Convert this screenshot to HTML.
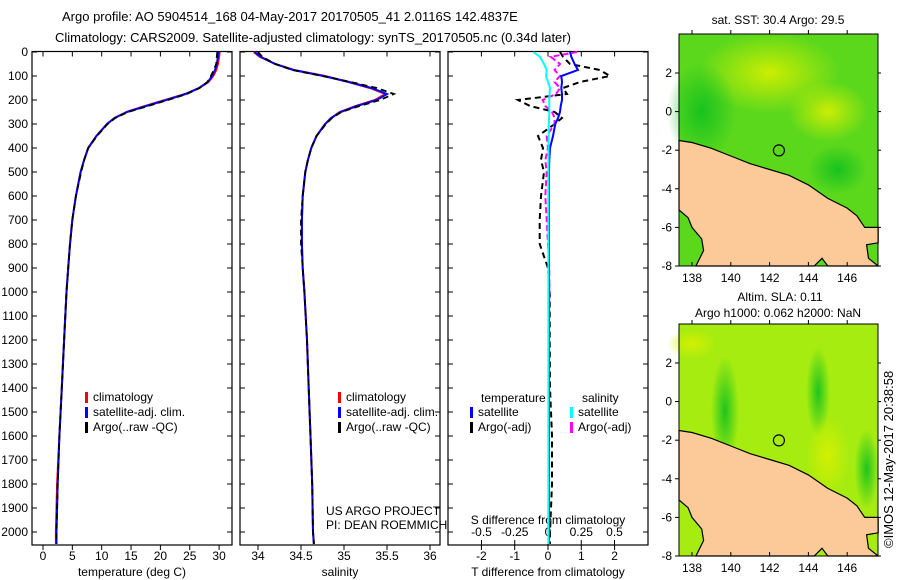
<!DOCTYPE html>
<html><head><meta charset="utf-8"><style>
body{margin:0;background:#fff}
svg{display:block;font-family:"Liberation Sans",sans-serif;}
text{font-size:12px;fill:#000}
</style></head><body>
<svg id="fig" width="900" height="580" viewBox="0 0 900 580">
<defs>
<radialGradient id="yl" cx="50%" cy="50%" r="50%"><stop offset="0" stop-color="#d8f000" stop-opacity="0.9"/><stop offset="1" stop-color="#d8f000" stop-opacity="0"/></radialGradient>
<radialGradient id="dg" cx="50%" cy="50%" r="50%"><stop offset="0" stop-color="#10c020" stop-opacity="0.9"/><stop offset="1" stop-color="#10c020" stop-opacity="0"/></radialGradient>
</defs>
<text x="62" y="21" style="font-size:13px">Argo profile: AO 5904514_168 04-May-2017 20170505_41 2.0116S 142.4837E</text>
<text x="55" y="42" style="font-size:13px">Climatology: CARS2009. Satellite-adjusted climatology: synTS_20170505.nc (0.34d later)</text>
<g id="p1"></g>
<g id="p2"></g>
<g id="p3"></g>
<g id="m1"></g>
<g id="m2"></g>
<text transform="translate(893,548) rotate(-90)" style="font-size:13px">©IMOS 12-May-2017 20:38:58</text>
</svg>
<script>
const depths=[0,20,50,75,100,125,150,175,200,225,250,275,300,350,400,450,500,600,700,800,900,1000,1200,1400,1600,1800,2000,2050];
const tempArgo=[29.7,29.6,29.5,29.1,28.6,28.0,26.7,24.5,21.3,17.9,14.5,12.3,11.0,9.2,7.7,7.0,6.5,5.6,5.0,4.6,4.3,4.0,3.6,3.2,2.8,2.5,2.3,2.3];
const tempClim=[30.1,30.0,29.8,29.5,29.0,28.2,26.6,24.2,20.8,17.4,14.2,12.2,10.9,9.1,7.7,7.0,6.4,5.6,5.0,4.6,4.3,4.0,3.6,3.2,2.8,2.4,2.2,2.2];
const tempSat=[29.9,29.8,29.6,29.3,28.8,28.1,26.6,24.3,21.0,17.6,14.3,12.2,10.9,9.1,7.7,7.0,6.4,5.6,5.0,4.6,4.3,4.0,3.6,3.2,2.8,2.5,2.3,2.3];
const salArgo=[34.0,34.05,34.2,34.4,34.75,35.08,35.38,35.58,35.42,35.18,34.97,34.86,34.79,34.68,34.62,34.58,34.55,34.52,34.5,34.5,34.52,34.54,34.57,34.59,34.61,34.63,34.64,34.65];
const salClim=[33.95,34.02,34.2,34.42,34.78,35.05,35.3,35.48,35.36,35.14,34.95,34.85,34.78,34.68,34.62,34.58,34.55,34.52,34.51,34.51,34.52,34.54,34.57,34.59,34.61,34.63,34.64,34.65];
const salSat=[33.96,34.03,34.2,34.41,34.76,35.06,35.32,35.5,35.38,35.15,34.96,34.85,34.78,34.68,34.62,34.58,34.55,34.52,34.51,34.51,34.52,34.54,34.57,34.59,34.61,34.63,34.64,34.65];
const tDiffSat=[0.66,0.7,0.8,0.9,0.4,0.42,0.4,0.42,0.42,0.38,0.36,0.3,0.22,0.15,0.06,0.04,0.03,0.03,0.03,0.03,0.03,0.03,0.03,0.03,0.03,0.03,0.03,0.03];
const tDiffArgo=[0.36,0.45,0.66,1.56,1.86,0.96,0.45,0.57,-0.9,-0.54,0.2,0.42,0.2,-0.3,-0.15,-0.21,-0.12,-0.21,-0.25,-0.25,0.0,0.05,0.05,0.06,0.12,0.12,0.06,0.06];
const sDiffSat=[-0.11,-0.06,-0.03,-0.01,-0.015,0.0,0.015,0.012,0.01,0.01,0.01,0.008,0.006,0.005,0.004,0.004,0.003,0.003,0.003,0.003,0.003,0.003,0.003,0.003,0.003,0.003,0.003,0.003];
const sDiffArgo=[0.22,0.02,0.09,0.05,0.09,0.05,0.09,0.06,-0.04,-0.02,0.03,0.05,0.05,-0.01,0.0,-0.02,-0.01,-0.02,-0.01,0.0,0.01,0.01,0.005,0.005,0.005,0.005,0.005,0.005];
const depthTicks=[0,100,200,300,400,500,600,700,800,900,1000,1100,1200,1300,1400,1500,1600,1700,1800,1900,2000];
const tempTicks=[0,5,10,15,20,25,30];
const salTicks=[34,34.5,35,35.5,36];
const tdTicks=[-2,-1,0,1,2];
const sdTicks=[-0.5,-0.25,0,0.25,0.5];
const sdTickLabels=["-0.5","-0.25","0","0.25","0.5"];
const lonTicks=[138,140,142,144,146];
const latTicks=[2,0,-2,-4,-6,-8];

const NS="http://www.w3.org/2000/svg";
function mk(parent,tag,attrs,txt){const e=document.createElementNS(NS,tag);for(const k in attrs)e.setAttribute(k,attrs[k]);if(txt!==undefined)e.textContent=txt;parent.appendChild(e);return e;}
const Y0=52,Yk=0.24;
const yD=d=>Y0+d*Yk;
function frame(g,x0,x1){const r=mk(g,'rect',{x:x0,y:51.5,width:x1-x0,height:493.5,fill:'none',stroke:'#000','stroke-width':1.2});}
function line(g,xs,sx,color,dash,w,name){const pts=depths.map((d,i)=>sx(xs[i]).toFixed(1)+','+yD(d).toFixed(1)).join(' ');const p=mk(g,'polyline',{points:pts,fill:'none',stroke:color,'stroke-width':w||2,'stroke-dasharray':dash||'none'});}
function xTicks(g,ticks,labels,sx,yb,ylab,up){ticks.forEach((t,i)=>{const x=sx(t);mk(g,'line',{x1:x,x2:x,y1:yb,y2:yb+(up?-5:5),stroke:'#000'});if(!up)mk(g,'line',{x1:x,x2:x,y1:51.5,y2:56.5,stroke:'#000'});const tx=mk(g,'text',{x:x,y:ylab,'text-anchor':'middle'},labels[i]);});}
function legend(g,x,y,items){items.forEach((it,i)=>{mk(g,'rect',{x:x,y:y+i*15-9,width:3,height:11,fill:it[0]});const t=mk(g,'text',{x:x+8,y:y+i*15},it[1]);});}

// Panel 1
const p1=document.getElementById('p1');
const sT=v=>43+v*5.87;
frame(p1,32,232);
depthTicks.forEach(d=>{const y=yD(d);mk(p1,'line',{x1:32,x2:37,y1:y,y2:y,stroke:'#000'});mk(p1,'line',{x1:227,x2:232,y1:y,y2:y,stroke:'#000'});const t=mk(p1,'text',{x:28,y:y+4,'text-anchor':'end'},String(d));});
xTicks(p1,tempTicks,tempTicks.map(String),sT,545,560);
const xl1=mk(p1,'text',{x:132,y:576,'text-anchor':'middle'},'temperature (deg C)');
line(p1,tempClim,sT,'#f00',null,2,'climatology-line');
line(p1,tempSat,sT,'#00f',null,2,'satellite-line');
line(p1,tempArgo,sT,'#000','6 4',1.8,'argo-line');
legend(p1,85,401,[['#f00','climatology'],['#00f','satellite-adj. clim.'],['#000','Argo(..raw -QC)']]);

// Panel 2
const p2=document.getElementById('p2');
const sS=v=>258+(v-34)*86;
frame(p2,240,440);
depthTicks.forEach(d=>{const y=yD(d);mk(p2,'line',{x1:240,x2:245,y1:y,y2:y,stroke:'#000'});mk(p2,'line',{x1:435,x2:440,y1:y,y2:y,stroke:'#000'});});
xTicks(p2,salTicks,salTicks.map(String),sS,545,560);
const xl2=mk(p2,'text',{x:340,y:576,'text-anchor':'middle'},'salinity');
line(p2,salClim,sS,'#f00',null,2,'climatology-line');
line(p2,salSat,sS,'#00f',null,2,'satellite-line');
line(p2,salArgo,sS,'#000','6 4',1.8,'argo-line');
legend(p2,338,401,[['#f00','climatology'],['#00f','satellite-adj. clim.'],['#000','Argo(..raw -QC)']]);
mk(p2,'text',{x:326,y:515},'US ARGO PROJECT');mk(p2,'text',{x:326,y:529},'PI: DEAN ROEMMICH');

// Panel 3
const p3=document.getElementById('p3');
const sTD=v=>548+v*33.3, sSD=v=>548+v*133;
frame(p3,448,648);
depthTicks.forEach(d=>{const y=yD(d);mk(p3,'line',{x1:448,x2:453,y1:y,y2:y,stroke:'#000'});mk(p3,'line',{x1:643,x2:648,y1:y,y2:y,stroke:'#000'});});
xTicks(p3,tdTicks,tdTicks.map(String),sTD,545,560);
sdTicks.forEach((t,i)=>{const x=sSD(t);mk(p3,'line',{x1:x,x2:x,y1:545,y2:540,stroke:'#000'});mk(p3,'text',{x:x,y:536,'text-anchor':'middle'},sdTickLabels[i]);});
mk(p3,'text',{x:548,y:524,'text-anchor':'middle'},'S difference from climatology');
const xl3=mk(p3,'text',{x:548,y:576,'text-anchor':'middle'},'T difference from climatology');
line(p3,tDiffArgo,sTD,'#000','6 4',2,'t-diff-argo-line');
line(p3,sDiffArgo,sSD,'#f0f','6 3',2,'s-diff-argo-line');
line(p3,tDiffSat,sTD,'#00f',null,2,'t-diff-satellite-line');
line(p3,sDiffSat,sSD,'#0ff',null,2,'s-diff-satellite-line');
mk(p3,'text',{x:481,y:402},'temperature');mk(p3,'text',{x:582,y:402},'salinity');
legend(p3,470,416,[['#00f','satellite'],['#000','Argo(-adj)']]);
legend(p3,570,416,[['#0ff','satellite'],['#f0f','Argo(-adj)']]);

// Maps
function map(id,y0,title1,title2,base,blobs){
 const g=document.getElementById(id);
 const X0=679,X1=878,lonL=137.33,latT=4.02;
 const px=lo=>X0+(lo-lonL)*19.4, py=la=>y0+(latT-la)*19.3;
 const y1=py(-8);
 mk(g,'rect',{x:X0,y:y0,width:X1-X0,height:y1-y0,fill:base});
 blobs.forEach(b=>mk(g,'ellipse',{cx:px(b[0]),cy:py(b[1]),rx:b[2],ry:b[3],fill:b[4]}));
 const land=[[137.33,-1.5],[138,-1.6],[139,-1.9],[140,-2.3],[141,-2.7],[142,-3.0],[143,-3.3],[144,-3.8],[145,-4.5],[146,-5.0],[146.5,-5.4],[146.9,-6.0],[147.6,-6.0],[147.6,-6.8],[147,-6.9],[147.1,-7.6],[147.6,-8],[145,-8],[144.7,-7.6],[144.3,-8],[138.2,-8],[138.6,-7.2],[138.5,-6.6],[138,-6],[137.8,-5.5],[137.33,-5.1]];
 const lp=mk(g,'polygon',{points:land.map(p=>px(p[0]).toFixed(1)+','+py(p[1]).toFixed(1)).join(' '),fill:'#fcc998',stroke:'#000','stroke-width':1.2});
 
 mk(g,'circle',{cx:px(142.48),cy:py(-2.01),r:5.5,fill:'none',stroke:'#000','stroke-width':1.2});
 mk(g,'rect',{x:X0,y:y0,width:X1-X0,height:y1-y0,fill:'none',stroke:'#000'});
 lonTicks.forEach(l=>{const x=px(l);mk(g,'line',{x1:x,x2:x,y1:y1,y2:y1-4,stroke:'#000'});mk(g,'line',{x1:x,x2:x,y1:y0,y2:y0-4,stroke:'#000'});mk(g,'text',{x:x,y:y1+16,'text-anchor':'middle'},String(l));});
 latTicks.forEach(l=>{const y=py(l);mk(g,'line',{x1:X0,x2:X0-4,y1:y,y2:y,stroke:'#000'});mk(g,'line',{x1:X1,x2:X1+3,y1:y,y2:y,stroke:'#000'});mk(g,'text',{x:X0-7,y:y+4,'text-anchor':'end'},String(l));});
 if(title2){mk(g,'text',{x:780,y:y0-23,'text-anchor':'middle'},title1);mk(g,'text',{x:778,y:y0-7,'text-anchor':'middle'},title2);}
 else mk(g,'text',{x:778,y:y0-10,'text-anchor':'middle'},title1);
}
map('m1',34,'sat. SST: 30.4  Argo: 29.5',null,'#5cd81c',[[142,2,70,40,'url(#yl)'],[145,0,40,30,'url(#yl)'],[138.5,0,35,50,'url(#dg)'],[145.5,-3,30,25,'url(#dg)']]);
map('m2',324,'Altim. SLA: 0.11','Argo h1000: 0.062 h2000: NaN','#a6ec10',[[139.7,-0.5,14,55,'url(#dg)'],[144.5,0.5,12,45,'url(#dg)'],[145,-2.8,22,40,'url(#yl)'],[147,-3.5,12,40,'url(#dg)'],[138,3,25,15,'url(#yl)']]);
</script>
</body></html>
